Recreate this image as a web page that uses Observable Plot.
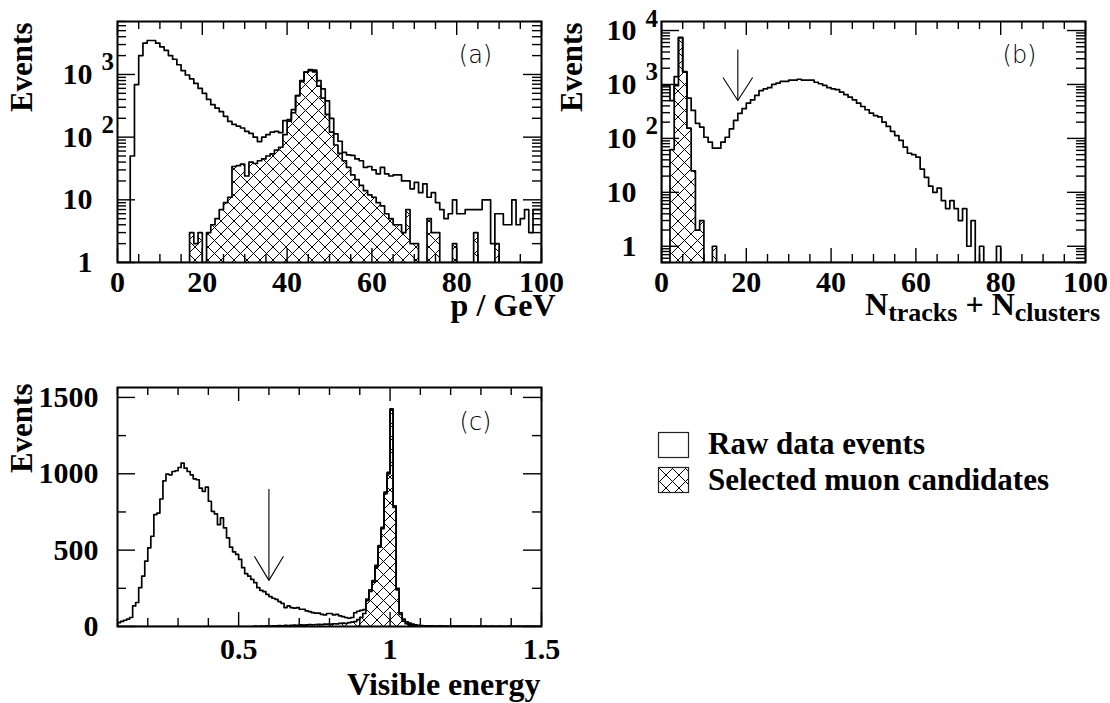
<!DOCTYPE html>
<html><head><meta charset="utf-8">
<script src="https://cdn.jsdelivr.net/npm/d3@7"></script>
<script src="https://cdn.jsdelivr.net/npm/@observablehq/plot@0.6"></script>
<style>
body{margin:0;background:#fff;}
#root{position:relative;width:1110px;height:703px;overflow:hidden;background:#fff;}
</style></head><body>
<svg width="0" height="0" style="position:absolute;left:0;top:0"><defs>
<pattern id="xhatch" patternUnits="userSpaceOnUse" width="13" height="13"><path d="M-1,-1L14,14M14,-1L-1,14" stroke="#000" stroke-width="1" fill="none"/></pattern>
</defs></svg>
<div id="root"></div>
<script>
// ---------------- data ----------------
// (a) momentum, 1 GeV bins from 0 to 100
const pLo = 0, pWidth = 1;
const rawP = [0,0,0,50,690,2000,3160,3480,3480,3160,
 2750,2420,2000,1750,1430,1150,980,850,720,600,
 500,400,330,290,255,215,178,160,150,140,
 124,115,100,85,100,110,120,124,118,183,
 190,275,460,800,1090,1200,1170,800,590,380,
 200,113,86,57,52,51,45,42,33,34,
 30,26,33,26,24,25,25,20,20,15,
 19,13,18,11,13,9,7,5,6,10,
 6,6,7,7,7,7,10,10,2,6,
 6,4,4,10,4,5,7,3,7,7];
const selP = [0,0,0,0,0,0,0,0,0,0,
 0,0,0,0,0,0,0,3,2,3,
 0,3,4,5,7,9,11,34,35,37,
 24,40,38,42,45,50,54,62,69,110,
 180,245,460,770,1090,1150,1100,650,420,230,
 120,75,55,42,33,25,21,17,14,12,
 11,9,8,6,5,4,4,3,7,2,
 2,0,0,5,3,3,0,0,0,2,
 0,0,0,0,3,0,0,0,0,2,
 0,0,0,0,0,0,0,0,0,0];
// (b) N_tracks + N_clusters, unit bins from 0 to 100
const nLo = 0, nWidth = 1;
const rawN = [960,960,500,1400,7500,1740,560,330,190,162,
 105,85,66,66,85,105,150,215,290,355,
 450,520,625,770,830,870,1000,1060,1140,1140,
 1200,1200,1250,1200,1200,1200,1100,1030,960,870,
 830,800,720,650,580,520,450,390,340,295,
 265,250,200,167,135,113,92,69,53,50,
 45,27,19,13,10,12,7,5,7,5,
 3,5,1,3,0,1,0,0,0,1,
 0,0,0,0,0,0,0,0,0,0,
 0,0,0,0,0,0,0,0,0,0];
const selN = [0,0,62,950,7300,1700,155,25,2,3,
 0,0,1,0,0,0,0,0,0,0,
 0,0,0,0,0,0,0,0,0,0,
 0,0,0,0,0,0,0,0,0,0,
 0,0,0,0,0,0,0,0,0,0,
 0,0,0,0,0,0,0,0,0,0,
 0,0,0,0,0,0,0,0,0,0,
 0,0,0,0,0,0,0,0,0,0,
 0,0,0,0,0,0,0,0,0,0,
 0,0,0,0,0,0,0,0,0,0];
// (c) visible energy, 0.01 bins from 0.1 to 1.5
const eLo = 0.1, eWidth = 0.01;
const rawE = [26,33,41,48,59,135,157,254,330,428,
 515,591,733,743,835,954,998,993,1015,1020,
 1041,1070,1037,1015,993,967,961,906,885,913,
 820,754,737,667,711,646,580,520,489,472,
 439,385,346,330,309,287,254,237,228,211,
 196,185,178,163,152,124,135,124,120,124,
 113,113,102,98,91,87,87,80,76,85,
 85,76,80,70,65,59,54,59,90,100,
 105,110,180,240,300,400,530,650,880,1010,
 1425,790,250,90,48,30,22,15,10,8,
 6,5,4,4,3,3,4,3,2,3,
 2,3,2,2,3,2,2,1,2,2,
 1,2,1,2,1,1,2,1,1,2,
 1,1,2,1,1,2,1,1,1,1];
const selE = [0,0,0,0,0,0,0,0,0,0,
 0,0,0,0,0,0,0,0,0,0,
 0,0,0,0,0,0,0,0,0,0,
 0,0,0,0,0,0,0,0,0,0,
 0,0,0,0,0,2,1,3,2,4,
 3,5,4,6,5,7,6,8,9,7,
 10,9,11,12,10,13,14,12,15,16,
 15,18,17,20,22,21,25,28,32,45,
 60,85,170,230,290,390,520,640,870,1000,
 1420,780,240,80,35,18,10,6,4,3,
 2,2,1,1,1,0,1,0,0,0,
 0,0,0,0,0,0,0,0,0,0,
 0,0,0,0,0,0,0,0,0,0,
 0,0,0,0,0,0,0,0,0,0];
// axis tick labels
const xLabelsP = [0, 20, 40, 60, 80, 100];
const xLabelsN = [0, 20, 40, 60, 80, 100];
const xLabelsE = [0.5, 1, 1.5];
const yLabelsE = [0, 500, 1000, 1500];
const panelTags = ["(a)", "(b)", "(c)"];
// cut arrows (data units)
const cutN = {x: 18, tail: 4450, tip: 505, wing: 1350, half: 3.5};
const cutE = {x: 0.6, tail: 900, tip: 302, wing: 460, half: 0.048};
const legendItems = ["Raw data events", "Selected muon candidates"];

// ---------------- helpers ----------------
const SERIF = "'Liberation Serif','Times New Roman',serif";
const THIN = "'DejaVu Sans','Open Sans',sans-serif";
const root = document.getElementById("root");

function histPts(vals, lo, w, base) {
  const pts = [{x: lo, y: base}];
  vals.forEach((v, i) => pts.push({x: lo + i * w, y: Math.max(v, base)}));
  const hi = lo + vals.length * w;
  pts.push({x: hi, y: Math.max(vals[vals.length - 1], base)});
  pts.push({x: hi, y: base});
  return pts;
}
function arrowSegs(a) {
  return [
    {x1: a.x, y1: a.tail, x2: a.x, y2: a.tip},
    {x1: a.x - a.half, y1: a.wing, x2: a.x, y2: a.tip},
    {x1: a.x + a.half, y1: a.wing, x2: a.x, y2: a.tip}
  ];
}
function logTicks(lo, hi) {
  const major = [], minor = [];
  for (let e = Math.floor(Math.log10(lo)) ; e <= Math.ceil(Math.log10(hi)); e++) {
    const b = Math.pow(10, e);
    if (b >= lo && b <= hi) major.push(b);
    for (let k = 2; k <= 9; k++) { const v = +(k * b).toPrecision(6); if (v >= lo && v <= hi) minor.push(v); }
  }
  return {major, minor};
}

function makePanel(o) {
  const {width, height, mt, mr, mb, ml} = o;
  const fw = width - ml - mr, fh = height - mt - mb;
  const base = o.yDomain[0];
  const rawPts = histPts(o.raw, o.lo, o.w, base);
  const selPts = histPts(o.sel, o.lo, o.w, base);
  const sw = 1.4;
  const marks = [
    Plot.areaY(selPts, {x: "x", y1: base, y2: "y", curve: "step-after", fill: "url(#xhatch)", clip: true}),
    Plot.line(selPts, {x: "x", y: "y", curve: "step-after", stroke: "black", strokeWidth: 1.7, clip: true}),
    Plot.line(rawPts, {x: "x", y: "y", curve: "step-after", stroke: "black", strokeWidth: 1.7, clip: true})
  ];
  const addX = (vals, len) => {
    marks.push(Plot.tickX(vals, {x: d => d, insetTop: fh - len, stroke: "black", strokeWidth: sw}));
    marks.push(Plot.tickX(vals, {x: d => d, insetBottom: fh - len, stroke: "black", strokeWidth: sw}));
  };
  const addY = (vals, len) => {
    marks.push(Plot.tickY(vals, {y: d => d, insetRight: fw - len, stroke: "black", strokeWidth: sw}));
    marks.push(Plot.tickY(vals, {y: d => d, insetLeft: fw - len, stroke: "black", strokeWidth: sw}));
  };
  addX(o.xMajor, 14); addX(o.xMinor, 8);
  addY(o.yMajor, 18); addY(o.yMinor, 9);
  if (o.arrow) marks.push(Plot.link(arrowSegs(o.arrow), {x1: "x1", y1: "y1", x2: "x2", y2: "y2", stroke: "black", strokeWidth: 1.1}));
  marks.push(Plot.frame({stroke: "black", strokeWidth: 2}));
  const T = {fill: "black", fontFamily: SERIF, fontWeight: "bold", fontSize: 30};
  marks.push(Plot.text(o.xLabels, {...T, x: d => d, text: d => String(d), frameAnchor: "bottom", dy: o.xLabelDy, lineAnchor: "top"}));
  if (o.logLabels) {
    const dec = o.yMajor.map(v => ({v, base: v === 1 ? "1" : "10", exp: v >= 100 ? String(Math.round(Math.log10(v))) : ""}));
    marks.push(Plot.text(dec, {...T, y: "v", text: "base", frameAnchor: "left", dx: -25, textAnchor: "end", lineAnchor: "middle"}));
    marks.push(Plot.text(dec.filter(d => d.exp), {...T, fontSize: 25, y: "v", text: "exp", frameAnchor: "left", dx: -16, dy: -12, textAnchor: "start", lineAnchor: "middle"}));
  } else {
    marks.push(Plot.text(o.yLabels, {...T, y: d => d, text: d => String(d), frameAnchor: "left", dx: o.yLabelDx, textAnchor: "end", lineAnchor: "middle"}));
  }
  marks.push(Plot.text(["Events"], {...T, fontSize: 31, text: d => d, frameAnchor: "top-left", dx: o.eventsDx, dy: o.eventsDy, rotate: -90, textAnchor: "end", lineAnchor: "middle"}));
  if (o.xTitle) marks.push(Plot.text([o.xTitle], {...T, fontSize: 32, text: d => d, frameAnchor: "bottom-right", dx: o.xTitleDx, dy: o.xTitleDy, textAnchor: "end", lineAnchor: "middle"}));
  marks.push(Plot.text([o.tag], {fill: "black", fontFamily: THIN, fontWeight: 200, fontSize: 24, text: d => d, frameAnchor: "top-right", dx: -66, dy: o.tagDy, textAnchor: "middle", lineAnchor: "middle"}));
  const svg = Plot.plot({
    width, height, marginTop: mt, marginRight: mr, marginBottom: mb, marginLeft: ml,
    x: {domain: o.xDomain, axis: null},
    y: {type: o.yType, domain: o.yDomain, axis: null},
    style: {background: "transparent", color: "black", overflow: "visible"},
    marks
  });
  svg.style.position = "absolute";
  svg.style.left = o.left + "px";
  svg.style.top = o.top + "px";
  root.appendChild(svg);
  return svg;
}

// ---------------- panels ----------------
const xTicks100 = d3.range(0, 101, 5);
const ltA = logTicks(1, 7000);
makePanel({
  left: 0, top: 0, width: 570, height: 330, mt: 21, mr: 29, mb: 68, ml: 117,
  xDomain: [0, 100], yType: "log", yDomain: [1, 7000],
  raw: rawP, sel: selP, lo: pLo, w: pWidth,
  xMajor: xTicks100.filter(d => d % 20 === 0), xMinor: xTicks100.filter(d => d % 20 !== 0),
  yMajor: ltA.major, yMinor: ltA.minor, logLabels: true,
  xLabels: xLabelsP, xLabelDy: 8, eventsDx: -95, eventsDy: 1,
  xTitle: "p / GeV", xTitleDx: 14, xTitleDy: 43, tag: panelTags[0], tagDy: 34
});

const ltB = logTicks(0.5, 14700);
const svgB = makePanel({
  left: 600, top: 0, width: 510, height: 330, mt: 21, mr: 25, mb: 68, ml: 61,
  xDomain: [0, 100], yType: "log", yDomain: [0.5, 14700],
  raw: rawN, sel: selN, lo: nLo, w: nWidth, arrow: cutN,
  xMajor: xTicks100.filter(d => d % 20 === 0), xMinor: xTicks100.filter(d => d % 20 !== 0),
  yMajor: ltB.major, yMinor: ltB.minor, logLabels: true,
  xLabels: xLabelsN, xLabelDy: 8, eventsDx: -89, eventsDy: 1,
  xTitle: null, tag: panelTags[1], tagDy: 34
});
// x title with subscripts for panel (b)
{
  const t = d3.select(svgB).append("text")
    .attr("x", 500).attr("y", 315).attr("text-anchor", "end")
    .attr("font-family", SERIF).attr("font-weight", "bold").attr("font-size", 32).attr("fill", "black");
  t.append("tspan").text("N");
  t.append("tspan").attr("font-size", 26).attr("dy", 6).text("tracks");
  t.append("tspan").attr("dy", -6).text(" + N");
  t.append("tspan").attr("font-size", 26).attr("dy", 6).text("clusters");
}

const eTicks = d3.range(1, 16).map(d => d / 10);
makePanel({
  left: 0, top: 360, width: 570, height: 343, mt: 27, mr: 29, mb: 77, ml: 117,
  xDomain: [0.1, 1.5], yType: "linear", yDomain: [0, 1565],
  raw: rawE, sel: selE, lo: eLo, w: eWidth, arrow: cutE,
  xMajor: eTicks.filter(d => Math.abs(d * 2 - Math.round(d * 2)) < 1e-9), xMinor: eTicks.filter(d => Math.abs(d * 2 - Math.round(d * 2)) > 1e-9),
  yMajor: [0, 500, 1000, 1500], yMinor: [250, 750, 1250], logLabels: false,
  yLabels: yLabelsE, yLabelDx: -19,
  xLabels: xLabelsE, xLabelDy: 11, eventsDx: -95, eventsDy: -4,
  xTitle: "Visible energy", xTitleDx: -1, xTitleDy: 58, tag: panelTags[2], tagDy: 35
});

// ---------------- legend ----------------
{
  const leg = d3.create("svg").attr("width", 470).attr("height", 100)
    .style("position", "absolute").style("left", "640px").style("top", "410px");
  legendItems.forEach((txt, i) => {
    leg.append("rect").attr("x", 18.5).attr("y", i ? 57.5 : 22.5).attr("width", 30).attr("height", 25)
      .attr("fill", i ? "url(#xhatch)" : "white").attr("stroke", "#222").attr("stroke-width", 1.2);
    leg.append("text").attr("x", 68).attr("y", i ? 80 : 44).text(txt)
      .attr("font-family", SERIF).attr("font-weight", "bold").attr("font-size", 31).attr("fill", "black");
  });
  root.appendChild(leg.node());
}
</script>
</body></html>
